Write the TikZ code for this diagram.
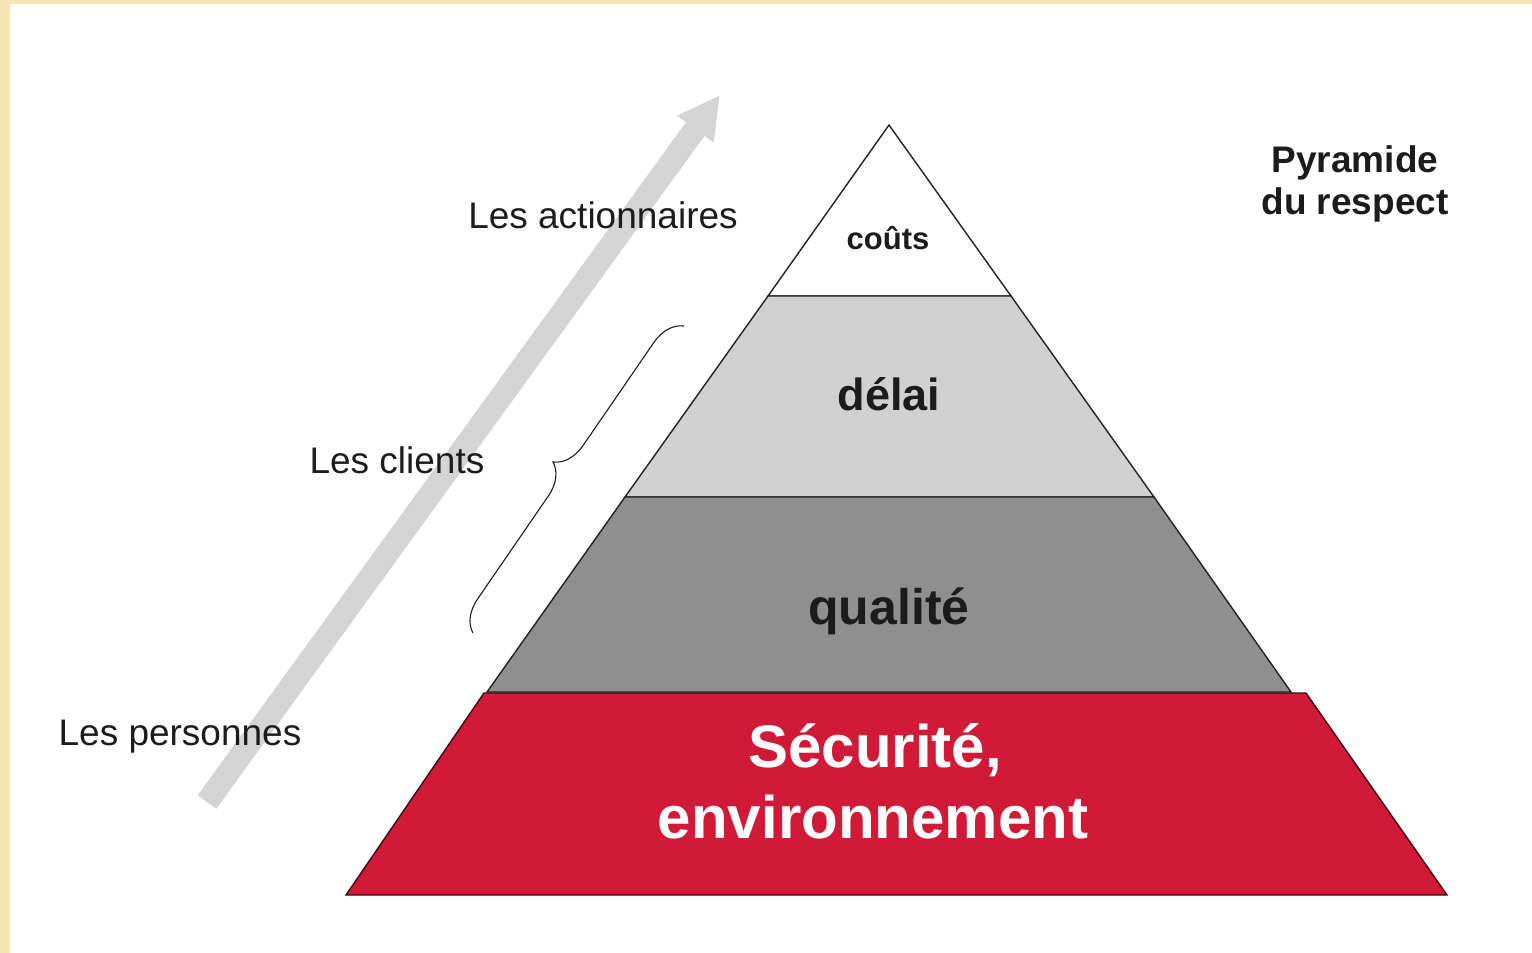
\documentclass[tikz,border=0pt]{standalone}
\usepackage{fontspec}
\setmainfont{Liberation Sans}
\usetikzlibrary{arrows.meta,decorations.pathreplacing}
\definecolor{bordery}{RGB}{247,230,180}
\definecolor{txt}{RGB}{28,28,28}
\definecolor{lgrey}{RGB}{208,208,208}
\definecolor{mgrey}{RGB}{143,143,143}
\definecolor{sred}{RGB}{209,26,55}
\definecolor{arrowgrey}{RGB}{212,212,212}
\definecolor{outline}{RGB}{34,34,34}
\definecolor{redline}{RGB}{60,10,18}
\tikzset{
  layer/.style={draw=outline, line width=1.4pt, line join=miter},
  side/.style={font=\fontsize{37}{42}\selectfont, text=txt, anchor=base, inner sep=0pt},
  lbl/.style={text=txt, anchor=base, inner sep=0pt},
  bracepath/.style={draw=txt, line width=1.1pt, decorate, decoration={brace, amplitude=31pt}},
}
\begin{document}
\begin{tikzpicture}[x=1pt,y=-1pt]
\useasboundingbox (0,0) rectangle (1532,953);
\fill[white] (0,0) rectangle (1532,953);
\fill[bordery] (0,0) rectangle (10,953);
\fill[bordery] (0,0) rectangle (1532,4);
% arrow
\coordinate (abase) at (207,802);
\coordinate (atip) at (720,95);
\draw[arrowgrey, line width=23pt, -{Triangle[width=42pt,length=42pt]}] (abase) -- (atip);
% pyramid
\coordinate (apex) at (889,125);
\coordinate (l1) at (768,296); \coordinate (r1) at (1011,296);
\coordinate (l2) at (625,497); \coordinate (r2) at (1154,497);
\coordinate (l3) at (487,692); \coordinate (r3) at (1291,692);
\filldraw[layer, fill=white] (apex) -- (r1) -- (l1) -- cycle;
\filldraw[layer, fill=lgrey] (l1) -- (r1) -- (r2) -- (l2) -- cycle;
\filldraw[layer, fill=mgrey] (l2) -- (r2) -- (r3) -- (l3) -- cycle;
\coordinate (rl) at (484,693); \coordinate (rr) at (1306,693);
\coordinate (bl) at (346,895); \coordinate (br) at (1447,895);
\filldraw[draw=redline, line width=1.4pt, fill=sred] (rl) -- (rr) -- (br) -- (bl) -- cycle;
% brace
\coordinate (brlow) at (473,633);
\coordinate (brhigh) at (684,326);
\draw[bracepath] (brlow) -- (brhigh);
% side labels
\node[side] (act) at (603,228) {Les actionnaires};
\node[side] (cli) at (397,473) {Les clients};
\node[side] (pers) at (180,745) {Les personnes};
% title
\node[lbl, font=\bfseries\fontsize{37}{42}\selectfont] (title1) at (1355,172) {Pyramide};
\node[lbl, font=\bfseries\fontsize{37}{42}\selectfont] (title2) at (1355,214) {du respect};
% layer labels
\node[lbl, font=\bfseries\fontsize{31}{36}\selectfont] (couts) at (888,249) {coûts};
\node[lbl, font=\bfseries\fontsize{45}{50}\selectfont] (delai) at (889,410) {délai};
\node[lbl, font=\bfseries\fontsize{50}{56}\selectfont] (qualite) at (889,624) {qualité};
\node[lbl, text=white, font=\bfseries\fontsize{60}{70}\selectfont] (secu) at (875,767) {Sécurité,};
\node[lbl, text=white, font=\bfseries\fontsize{60}{70}\selectfont] (envi) at (873,838) {environnement};
\end{tikzpicture}
\end{document}
